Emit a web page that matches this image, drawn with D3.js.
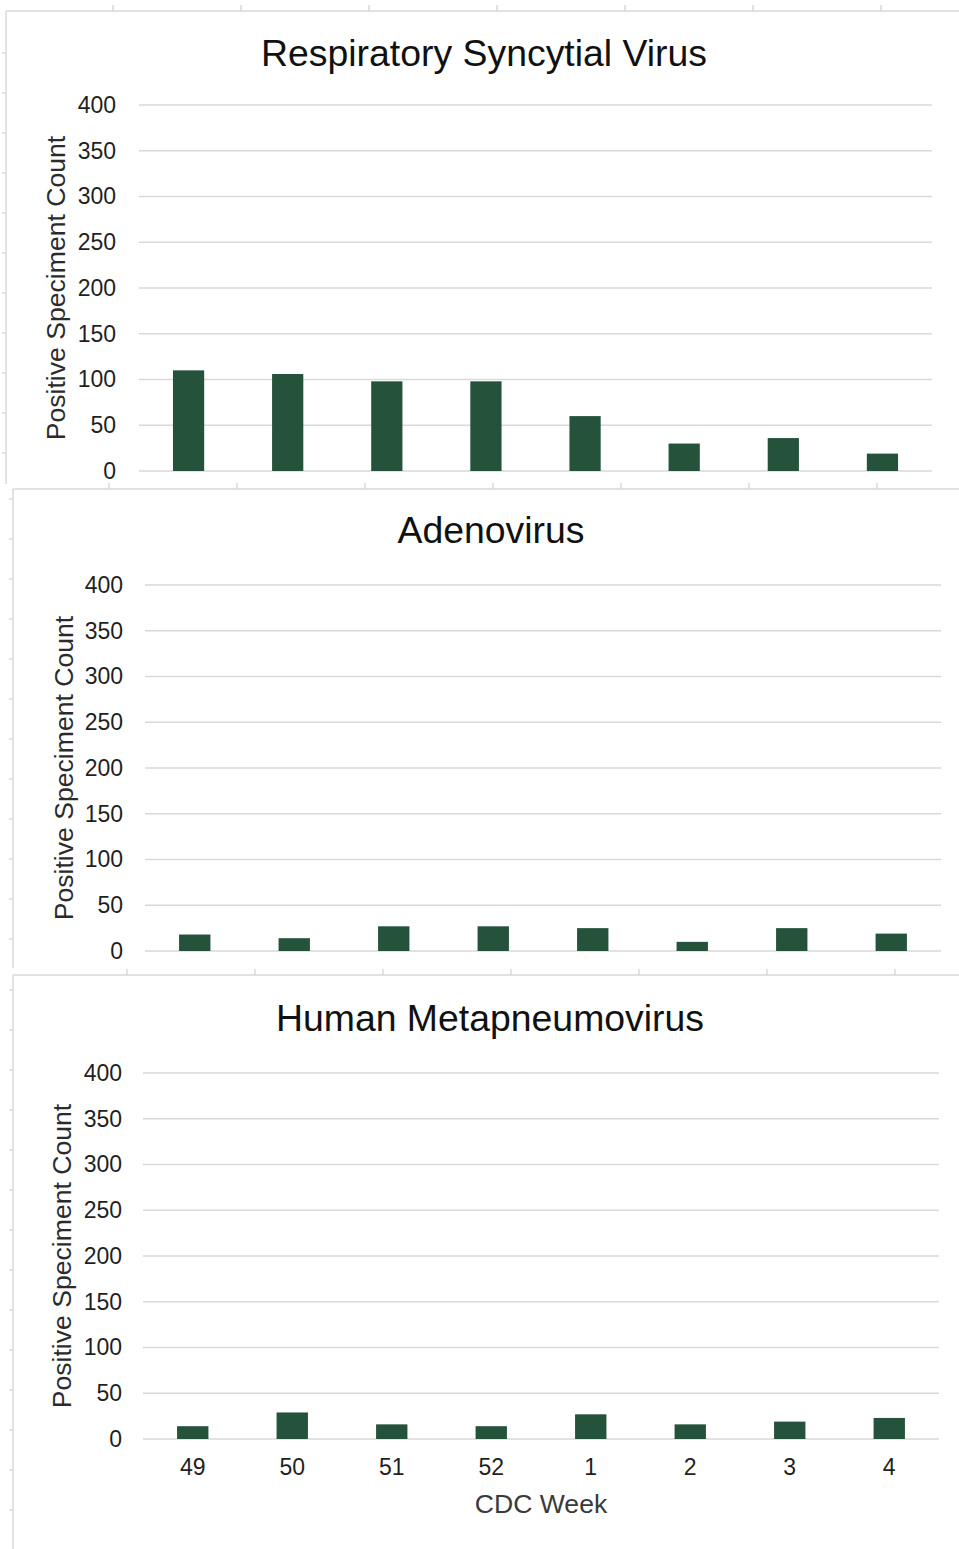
<!DOCTYPE html>
<html>
<head>
<meta charset="utf-8">
<script src="https://cdn.jsdelivr.net/npm/d3@7"></script>
<style>
  body { margin: 0; background: #fff; }
  svg { display: block; font-family: "Liberation Sans", Arial, sans-serif; }
</style>
</head>
<body>
<div id="chart"></div>
<script>
// data
const weeks = ["49", "50", "51", "52", "1", "2", "3", "4"];
const rsvCounts = [110, 106, 98, 98, 60, 30, 36, 19];
const adenoCounts = [18, 14, 27, 27, 25, 10, 25, 19];
const hmpvCounts = [14, 29, 16, 14, 27, 16, 19, 23];
const yTicks = [0, 50, 100, 150, 200, 250, 300, 350, 400];

const barColor = '#25523b';
const gridColor = '#d9d9d9';

var svg = d3.select('#chart')
    .append('svg')
    .attr('width', 959)
    .attr('height', 1549);

svg.append('rect').attr('width', 959).attr('height', 1549).attr('fill', '#fff');

// panel frames (the three charts overlap like pasted Excel charts)
var frames = [
    { left: 6, top: 11, bottom: 484, topTickX: 113, topTickY: 5, sideTickY: 53 },
    { left: 13, top: 489, bottom: 968, topTickX: 109, topTickY: 483, sideTickY: 499 },
    { left: 13, top: 975, bottom: 1549, topTickX: 127, topTickY: 969, sideTickY: 990 }
];

frames.forEach(function(f) {
    var g = svg.append('g').attr('stroke', gridColor).attr('stroke-width', 1.5);
    g.append('line').attr('x1', f.left).attr('x2', 959).attr('y1', f.top).attr('y2', f.top);
    g.append('line').attr('x1', f.left).attr('x2', f.left).attr('y1', f.top).attr('y2', f.bottom);
    // little ruler ticks along the edges
    d3.range(f.topTickX, 959, 128).forEach(function(x) {
        g.append('line').attr('x1', x).attr('x2', x).attr('y1', f.topTickY).attr('y2', f.topTickY + 6);
    });
    d3.range(f.sideTickY, f.bottom, 40).forEach(function(y) {
        g.append('line').attr('x1', f.left - 4).attr('x2', f.left).attr('y1', y).attr('y2', y);
    });
});

function drawPanel(cfg) {
    var x = d3.scaleBand()
        .domain(weeks)
        .range([cfg.x0, cfg.x1])
        .paddingInner(0.685)
        .paddingOuter(0.3425);

    var y = d3.scaleLinear()
        .domain([0, 400])
        .range([cfg.y0, cfg.y1]);

    var g = svg.append('g');

    // gridlines
    g.selectAll('line.grid')
        .data(yTicks)
        .enter().append('line')
        .attr('class', 'grid')
        .attr('x1', cfg.x0).attr('x2', cfg.x1)
        .attr('y1', function(d) { return y(d); })
        .attr('y2', function(d) { return y(d); })
        .attr('stroke', gridColor)
        .attr('stroke-width', 1.5);

    // y axis labels
    var yAxis = d3.axisLeft(y).tickValues(yTicks).tickSize(0).tickPadding(0);
    var ya = g.append('g')
        .attr('transform', 'translate(' + cfg.labelX + ',0)')
        .call(yAxis);
    ya.select('.domain').remove();
    ya.selectAll('text')
        .attr('font-size', 23)
        .attr('font-family', '"Liberation Sans", Arial, sans-serif')
        .attr('fill', '#1f1f1f');

    // bars
    g.selectAll('rect.bar')
        .data(cfg.values)
        .enter().append('rect')
        .attr('class', 'bar')
        .attr('x', function(d, i) { return x(weeks[i]); })
        .attr('width', x.bandwidth())
        .attr('y', function(d) { return y(d); })
        .attr('height', function(d) { return y(0) - y(d); })
        .attr('fill', barColor);

    // title
    g.append('text')
        .attr('x', cfg.titleX)
        .attr('y', cfg.titleY)
        .attr('text-anchor', 'middle')
        .attr('font-size', 37.4)
        .attr('fill', '#111')
        .text(cfg.title);

    // y axis title
    g.append('text')
        .attr('transform', 'translate(' + cfg.axisTitleX + ',' + (cfg.y0 + cfg.y1) / 2 + ') rotate(-90)')
        .attr('text-anchor', 'middle')
        .attr('font-size', 26.6)
        .attr('fill', '#2b2b2b')
        .text('Positive Speciment Count');

    if (cfg.showX) {
        var xAxis = d3.axisBottom(x).tickSize(0).tickPadding(0);
        var xa = g.append('g')
            .attr('transform', 'translate(0,' + (cfg.y0 + 20) + ')')
            .call(xAxis);
        xa.select('.domain').remove();
        xa.selectAll('text')
            .attr('font-size', 23)
            .attr('font-family', '"Liberation Sans", Arial, sans-serif')
            .attr('fill', '#1f1f1f')
            .attr('dy', '0.71em');

        g.append('text')
            .attr('x', (cfg.x0 + cfg.x1) / 2)
            .attr('y', cfg.y0 + 74)
            .attr('text-anchor', 'middle')
            .attr('font-size', 26.6)
            .attr('fill', '#3a3a3a')
            .text('CDC Week');
    }
}

drawPanel({
    title: 'Respiratory Syncytial Virus', values: rsvCounts,
    x0: 139, x1: 932, y0: 471, y1: 105,
    titleX: 484, titleY: 66, labelX: 116, axisTitleX: 65, showX: false
});

drawPanel({
    title: 'Adenovirus', values: adenoCounts,
    x0: 145, x1: 941, y0: 951, y1: 585,
    titleX: 491, titleY: 543, labelX: 123, axisTitleX: 73, showX: false
});

drawPanel({
    title: 'Human Metapneumovirus', values: hmpvCounts,
    x0: 143, x1: 939, y0: 1439, y1: 1073,
    titleX: 490, titleY: 1031, labelX: 122, axisTitleX: 71, showX: true
});
</script>
</body>
</html>
